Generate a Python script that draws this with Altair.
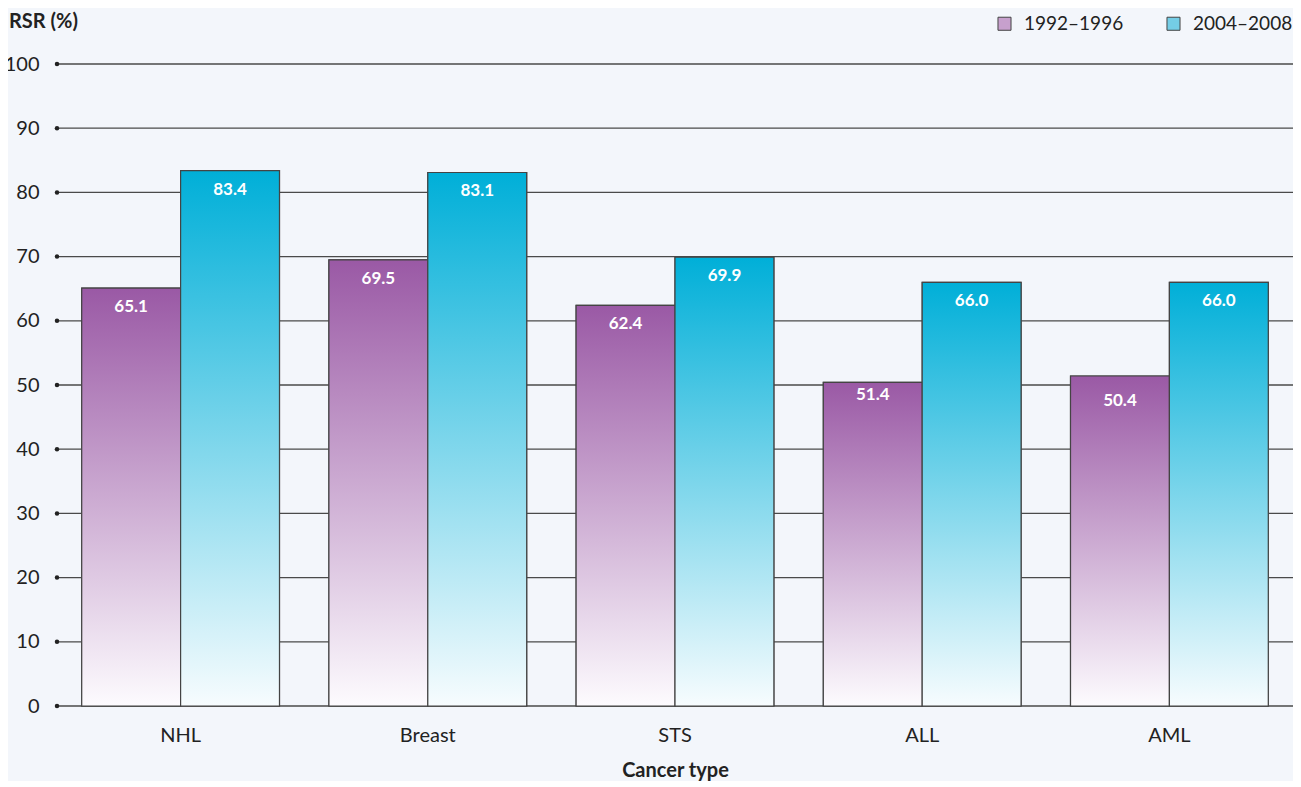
import altair as alt
import pandas as pd

categories = ["NHL", "Breast", "STS", "ALL", "AML"]
periods = ["1992–1996", "2004–2008"]
# bar heights as drawn
early_values = [65.1, 69.5, 62.4, 50.4, 51.4]
late_values = [83.4, 83.1, 69.9, 66.0, 66.0]
# printed labels (positioned at the printed value)
early_labels = [65.1, 69.5, 62.4, 51.4, 50.4]
late_labels = [83.4, 83.1, 69.9, 66.0, 66.0]
y_ticks = list(range(0, 101, 10))

FONT = "Lato"
rows = []
for i, c in enumerate(categories):
    rows.append({"cat": c, "period": periods[0], "v": early_values[i], "lv": early_labels[i], "lab": f"{early_labels[i]:.1f}"})
    rows.append({"cat": c, "period": periods[1], "v": late_values[i], "lv": late_labels[i], "lab": f"{late_labels[i]:.1f}"})
df = pd.DataFrame(rows)
ticks = pd.DataFrame({"t": y_ticks})

W, H = 1236, 642

purple_grad = {"gradient": "linear", "x1": 0, "y1": 0, "x2": 0, "y2": 1,
               "stops": [{"offset": 0, "color": "#9a59a5"}, {"offset": 1, "color": "#fdfbfe"}]}
blue_grad = {"gradient": "linear", "x1": 0, "y1": 0, "x2": 0, "y2": 1,
             "stops": [{"offset": 0, "color": "#00afd8"}, {"offset": 1, "color": "#f7fcfe"}]}

yscale = alt.Scale(domain=[0, 100], nice=False)
xenc = alt.X("cat:N", sort=categories,
             scale=alt.Scale(paddingInner=0.2, paddingOuter=0.1),
             axis=alt.Axis(title="Cancer type", labelAngle=0, domain=False, ticks=False,
                           labelFontSize=20, labelFont=FONT, labelColor="#222",
                           labelPadding=19, titleFont=FONT, titleFontSize=20,
                           titleFontWeight="bold", titleColor="#222", titlePadding=15))
xoff = alt.XOffset("period:N", sort=periods)

grid = alt.Chart(ticks).mark_rule(color="#4a4a4a", strokeWidth=1.3).encode(
    y=alt.Y("t:Q", scale=yscale,
            axis=alt.Axis(values=y_ticks, title=None, grid=False, domain=False, ticks=False,
                          labelFontSize=20, labelFont=FONT, labelColor="#222", labelPadding=18)),
    x=alt.value(0), x2=alt.value(W + 8))

dots = alt.Chart(ticks).mark_point(filled=True, color="#222", size=20, opacity=1).encode(
    y=alt.Y("t:Q", scale=yscale), x=alt.value(0))

base_bars = alt.Chart(df).mark_bar(stroke="#444", strokeWidth=1.2).encode(
    x=xenc, xOffset=xoff,
    y=alt.Y("v:Q", scale=yscale),
    color=alt.Color("period:N", sort=periods,
                    scale=alt.Scale(domain=periods, range=["#c7a0cd", "#74cde6"]),
                    legend=alt.Legend(title=None, orient="none", legendX=938, legendY=-50,
                                      direction="horizontal", symbolType="square",
                                      symbolSize=170, symbolStrokeColor="#444",
                                      symbolStrokeWidth=1, labelFontSize=19, labelFont=FONT,
                                      labelColor="#222", labelOffset=10, columnPadding=40,
                                      padding=0)))

grad_early = alt.Chart(df).transform_filter(alt.datum.period == periods[0]).mark_bar(
    stroke="#444", strokeWidth=1.2).encode(
    x=xenc, xOffset=xoff, y=alt.Y("v:Q", scale=yscale), fill=alt.value(purple_grad))
grad_late = alt.Chart(df).transform_filter(alt.datum.period == periods[1]).mark_bar(
    stroke="#444", strokeWidth=1.2).encode(
    x=xenc, xOffset=xoff, y=alt.Y("v:Q", scale=yscale), fill=alt.value(blue_grad))

labels = alt.Chart(df).mark_text(color="white", fontWeight="bold", fontSize=17, font=FONT,
                                 baseline="middle", dy=19).encode(
    x=xenc, xOffset=xoff, y=alt.Y("lv:Q", scale=yscale), text="lab:N")

ytitle = alt.Chart(ticks).transform_filter(alt.datum.t == 0).mark_text(
    text="RSR (%)", fontWeight="bold", fontSize=20, font=FONT, align="left",
    baseline="middle", color="#222").encode(x=alt.value(-48), y=alt.value(-42))

chart = alt.layer(grid, dots, base_bars, grad_early, grad_late, labels, ytitle).resolve_scale(
    x="shared").properties(
    width=W, height=H, background="#f3f6fb",
    padding={"left": 49, "top": 56, "right": 0, "bottom": 75},
    autosize=alt.AutoSizeParams(type="none")
).configure_view(stroke=None)

chart.save("out.html", embed_options={"renderer": "svg", "actions": False})
